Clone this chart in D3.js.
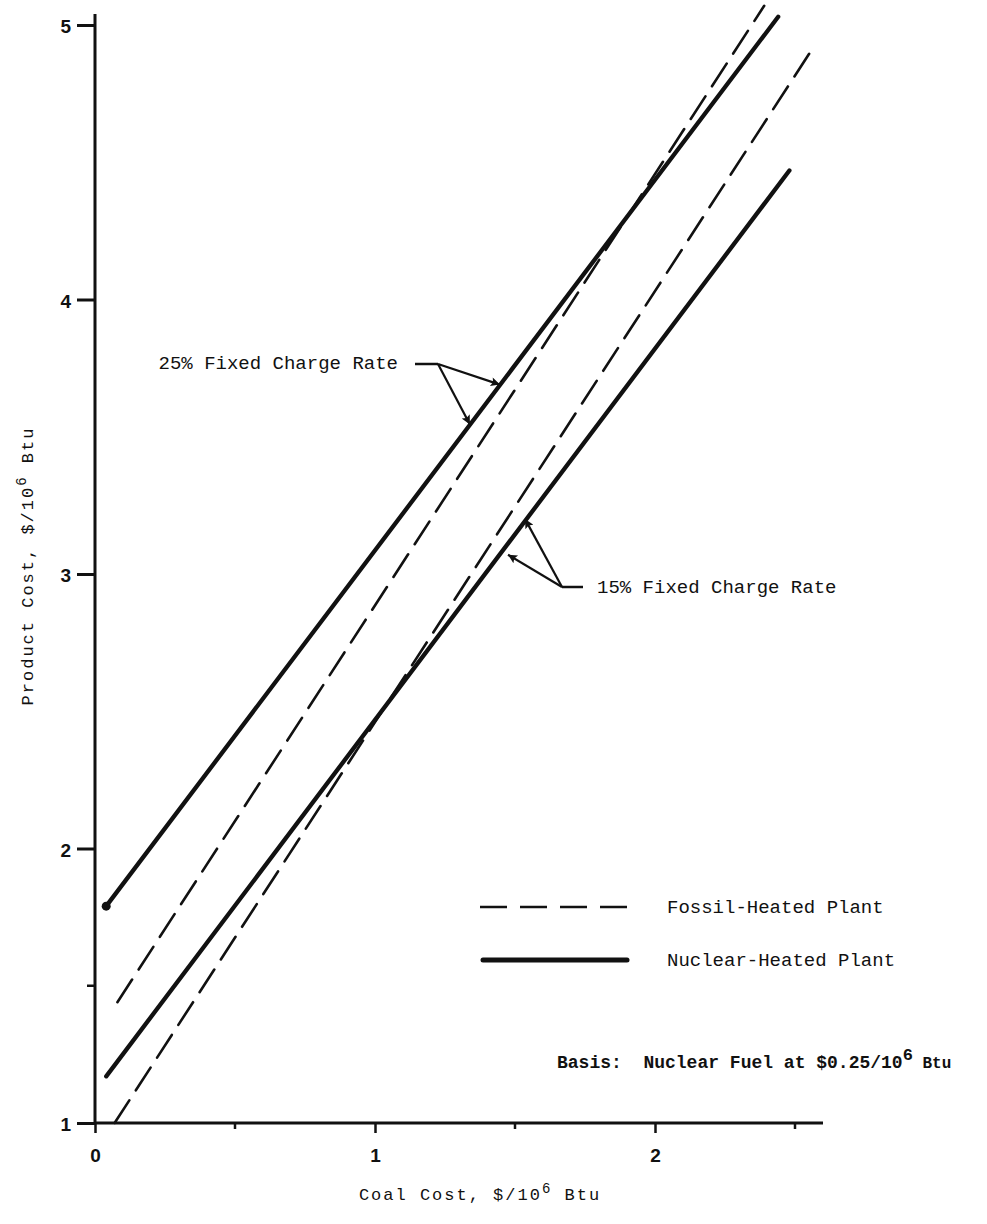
<!DOCTYPE html>
<html>
<head>
<meta charset="utf-8">
<script src="https://cdn.jsdelivr.net/npm/d3@7"></script>
<style>
  body { margin: 0; background: #fff; }
  text { font-family: "Liberation Mono", "DejaVu Sans Mono", monospace; fill: #111; white-space: pre; }
  .tick-label { font-family: "Liberation Sans", Arial, sans-serif; font-weight: bold; font-size: 19px; }
</style>
</head>
<body>
<div id="chart"></div>
<script>
// values
const coalTicks = [0, 1, 2];
const coalMinor = [0.5, 1.5, 2.5];
const productTicks = [1, 2, 3, 4, 5];
const productMinor = [1.5];

// [coal cost, product cost] end points of each straight line
const fossil25 = [[0.08, 1.44], [2.39, 5.07]];
const fossil15 = [[0.07, 1.00], [2.56, 4.91]];
const nuclear25 = [[0.04, 1.79], [2.44, 5.03]];
const nuclear15 = [[0.04, 1.17], [2.48, 4.47]];

// annotation arrow tips (data units)
const tips25 = [[1.446, 3.69], [1.339, 3.545]];
const tips15 = [[1.536, 3.20], [1.475, 3.07]];

const width = 987, height = 1224;

const svg = d3.select('#chart')
    .append('svg')
    .attr('width', width)
    .attr('height', height);

const x = d3.scaleLinear().domain([0, 2.6]).range([95, 823]);
const y = d3.scaleLinear().domain([1, 5]).range([1123, 25]);

svg.append('defs').append('marker')
    .attr('id', 'arrow')
    .attr('viewBox', '0 0 10 10')
    .attr('refX', 10).attr('refY', 5)
    .attr('markerWidth', 19).attr('markerHeight', 9)
    .attr('markerUnits', 'userSpaceOnUse')
    .attr('orient', 'auto')
    .append('path')
    .attr('d', 'M0,0 L10,5 L0,10 L2,5 Z')
    .attr('fill', '#111');

// axes lines
svg.append('line')
    .attr('x1', x(0)).attr('x2', x(0))
    .attr('y1', y(5.04)).attr('y2', y(1))
    .attr('stroke', '#111').attr('stroke-width', 3);
svg.append('line')
    .attr('x1', x(0)).attr('x2', x(2.6))
    .attr('y1', y(1)).attr('y2', y(1))
    .attr('stroke', '#111').attr('stroke-width', 3);

// y axis
const yAxis = svg.append('g')
    .attr('transform', `translate(${x(0)},0)`)
    .call(d3.axisLeft(y).tickValues(productTicks).tickSize(18).tickPadding(6).tickFormat(d3.format('d')));
yAxis.select('.domain').remove();
yAxis.selectAll('line').attr('stroke', '#111').attr('stroke-width', 3);
yAxis.selectAll('text').attr('class', 'tick-label').attr('dy', '0.4em');

svg.append('g')
    .selectAll('line')
    .data(productMinor)
    .join('line')
    .attr('x1', x(0) - 8).attr('x2', x(0))
    .attr('y1', d => y(d)).attr('y2', d => y(d))
    .attr('stroke', '#111').attr('stroke-width', 2.5);

// x axis
const xAxis = svg.append('g')
    .attr('transform', `translate(0,${y(1)})`)
    .call(d3.axisBottom(x).tickValues(coalTicks).tickSize(10).tickPadding(16).tickFormat(d3.format('d')));
xAxis.select('.domain').remove();
xAxis.selectAll('line').attr('stroke', '#111').attr('stroke-width', 2.5);
xAxis.selectAll('text').attr('class', 'tick-label');

svg.append('g')
    .selectAll('line')
    .data(coalMinor)
    .join('line')
    .attr('x1', d => x(d)).attr('x2', d => x(d))
    .attr('y1', y(1)).attr('y2', y(1) + 6)
    .attr('stroke', '#111').attr('stroke-width', 2.5);

// axis titles
function title(sel, label) {
    sel.style('font-size', '17px').style('letter-spacing', '2px');
    sel.append('tspan').text(label + ', $/10');
    sel.append('tspan').attr('dy', '-7').style('font-size', '14px').text('6');
    sel.append('tspan').attr('dy', '7').text(' Btu');
}
title(svg.append('text')
    .attr('x', 480).attr('y', 1200)
    .attr('text-anchor', 'middle'), 'Coal Cost');

title(svg.append('text')
    .attr('transform', 'translate(33,566) rotate(-90)')
    .attr('text-anchor', 'middle'), 'Product Cost');

// series
const line = d3.line().x(d => x(d[0])).y(d => y(d[1]));

[fossil25, fossil15].forEach(s => {
    svg.append('path')
        .attr('d', line(s))
        .attr('fill', 'none')
        .attr('stroke', '#111')
        .attr('stroke-width', 2.6)
        .attr('stroke-linecap', 'round')
        .attr('stroke-dasharray', '27 12');
});

[nuclear25, nuclear15].forEach(s => {
    svg.append('path')
        .attr('d', line(s))
        .attr('fill', 'none')
        .attr('stroke', '#111')
        .attr('stroke-width', 4.3)
        .attr('stroke-linecap', 'round');
});

svg.append('circle')
    .attr('cx', x(nuclear25[0][0])).attr('cy', y(nuclear25[0][1]))
    .attr('r', 4.5).attr('fill', '#111');

// annotations
function annotate(label, textX, textY, anchor, elbow, stub, tips) {
    svg.append('text')
        .attr('x', textX).attr('y', textY)
        .attr('text-anchor', anchor)
        .style('font-size', '19px')
        .text(label);
    svg.append('line')
        .attr('x1', stub[0]).attr('y1', stub[1])
        .attr('x2', elbow[0]).attr('y2', elbow[1])
        .attr('stroke', '#111').attr('stroke-width', 2.5);
    tips.forEach(t => {
        svg.append('line')
            .attr('x1', elbow[0]).attr('y1', elbow[1])
            .attr('x2', x(t[0])).attr('y2', y(t[1]))
            .attr('stroke', '#111').attr('stroke-width', 2.2)
            .attr('marker-end', 'url(#arrow)');
    });
}

annotate('25% Fixed Charge Rate', 398, 369, 'end', [438, 364], [415, 364], tips25);
annotate('15% Fixed Charge Rate', 597, 593, 'start', [562, 587], [583, 587], tips15);

// legend
svg.append('line')
    .attr('x1', 480).attr('x2', 634)
    .attr('y1', 907).attr('y2', 907)
    .attr('stroke', '#111').attr('stroke-width', 2.6)
    .attr('stroke-dasharray', '27 13');
svg.append('line')
    .attr('x1', 483).attr('x2', 627)
    .attr('y1', 960).attr('y2', 960)
    .attr('stroke', '#111').attr('stroke-width', 5)
    .attr('stroke-linecap', 'round');
svg.append('text').attr('x', 667).attr('y', 913).style('font-size', '19px').text('Fossil-Heated Plant');
svg.append('text').attr('x', 667).attr('y', 966).style('font-size', '19px').text('Nuclear-Heated Plant');

const basis = svg.append('text')
    .attr('x', 557).attr('y', 1068)
    .style('font-size', '18px')
    .style('font-weight', 'bold');
basis.append('tspan').text('Basis:  Nuclear Fuel at $0.25/10');
basis.append('tspan').attr('dy', '-8').style('font-size', '17px').text('6');
basis.append('tspan').attr('dy', '8').style('font-size', '16px').text(' Btu');
</script>
</body>
</html>
